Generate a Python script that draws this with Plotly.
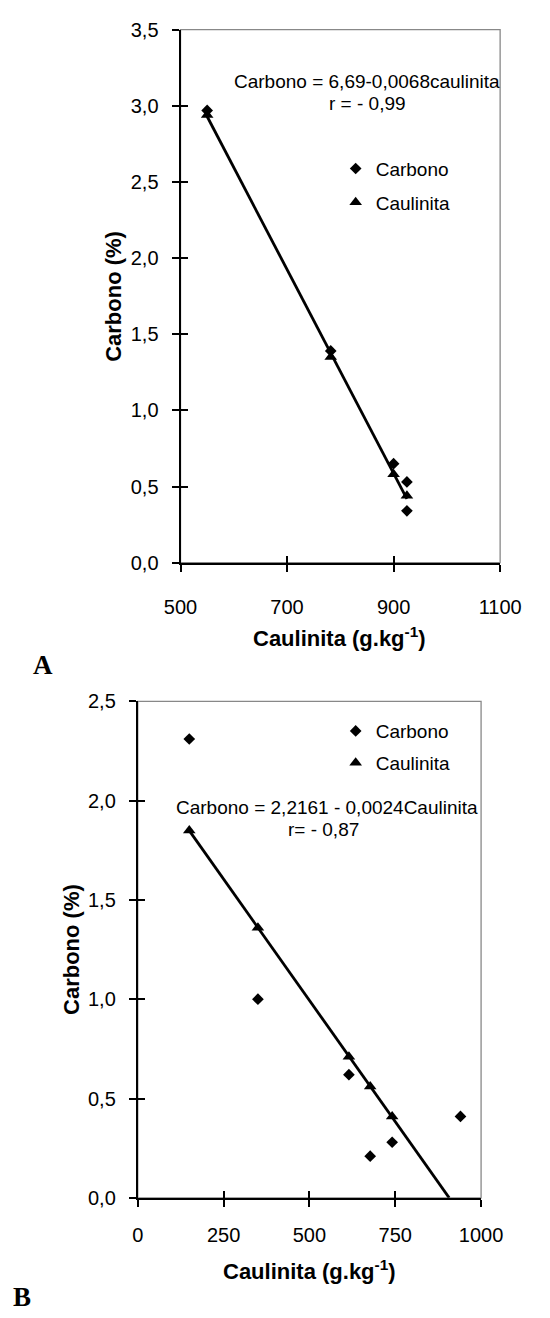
import numpy as np
import plotly.graph_objects as go

W, H = 550, 1318

# ---------------- Panel A data ----------------
a_carbono_x = [550, 782, 900, 925, 925]
a_carbono_y = [2.97, 1.39, 0.65, 0.53, 0.34]
a_caulinita_x = [550, 782, 900, 925]
a_caulinita_y = [2.94, 1.35, 0.58, 0.44]
a_xticks = [500, 700, 900, 1100]
a_yticks = [0, 0.5, 1.0, 1.5, 2.0, 2.5, 3.0, 3.5]
a_yticklabels = ["0,0", "0,5", "1,0", "1,5", "2,0", "2,5", "3,0", "3,5"]
a_eq = ["Carbono = 6,69-0,0068caulinita", "r = - 0,99"]

# ---------------- Panel B data ----------------
b_carbono_x = [150, 350, 615, 677, 741, 940]
b_carbono_y = [2.31, 1.00, 0.62, 0.21, 0.28, 0.41]
b_caulinita_x = [150, 350, 615, 677, 741]
b_caulinita_y = [1.85, 1.36, 0.71, 0.56, 0.41]
b_xticks = [0, 250, 500, 750, 1000]
b_yticks = [0, 0.5, 1.0, 1.5, 2.0, 2.5]
b_yticklabels = ["0,0", "0,5", "1,0", "1,5", "2,0", "2,5"]
b_eq = ["Carbono = 2,2161 - 0,0024Caulinita", "r= - 0,87"]


def px(x):
    return x / W


def py(y):
    return 1 - y / H


FONT = "Liberation Sans, Arial, sans-serif"
SERIF = "Liberation Serif, Times New Roman, serif"
FS = 19
TICK_FS = 20
TITLE_FS = 22

fig = go.Figure()


def add_panel(n, cx, cy, fx, fy, extend_to_zero, legend):
    xa = "x" if n == 1 else "x2"
    ya = "y" if n == 1 else "y2"
    # linear trend line fitted on the Caulinita series
    k, b = np.polyfit(fx, fy, 1)
    x0 = min(fx)
    x1 = (-b / k) if extend_to_zero else max(fx)
    lx = np.array([x0, x1])
    fig.add_trace(go.Scatter(x=lx, y=k * lx + b, mode="lines",
                             line=dict(color="black", width=2.8),
                             showlegend=False, xaxis=xa, yaxis=ya,
                             hoverinfo="skip"))
    fig.add_trace(go.Scatter(x=cx, y=cy, mode="markers", name="Carbono",
                             marker=dict(symbol="diamond", size=9, color="black"),
                             xaxis=xa, yaxis=ya, legend=legend,
                             legendgroup=f"c{n}"))
    fig.add_trace(go.Scatter(x=fx, y=fy, mode="markers", name="Caulinita",
                             marker=dict(symbol="triangle-up", size=11, color="black"),
                             xaxis=xa, yaxis=ya, legend=legend,
                             legendgroup=f"k{n}"))


add_panel(1, a_carbono_x, a_carbono_y, a_caulinita_x, a_caulinita_y, False, "legend")
add_panel(2, b_carbono_x, b_carbono_y, b_caulinita_x, b_caulinita_y, True, "legend2")

# empty traces so the overlay axes (inner half of the crossing ticks) are drawn
fig.add_trace(go.Scatter(x=[None], y=[None], xaxis="x3", yaxis="y3", showlegend=False,
                         hoverinfo="skip"))
fig.add_trace(go.Scatter(x=[None], y=[None], xaxis="x4", yaxis="y4", showlegend=False,
                         hoverinfo="skip"))

axis_common = dict(showgrid=False, zeroline=False, showline=True, linecolor="black",
                   linewidth=2, ticks="outside", ticklen=7, tickwidth=1.5,
                   tickcolor="black", tickfont=dict(family=FONT, size=TICK_FS, color="black"))
inside_common = dict(showgrid=False, zeroline=False, showline=False, ticks="inside",
                     ticklen=7, tickwidth=1.5, tickcolor="black", showticklabels=False)

A_dom_x = [px(176), px(520)]
A_dom_y = [py(561), py(19)]
B_dom_x = [px(130), px(499.5)]
B_dom_y = [py(1207), py(702)]

fig.update_layout(
    width=W, height=H,
    margin=dict(l=0, r=0, t=0, b=0),
    paper_bgcolor="white", plot_bgcolor="white",
    font=dict(family=FONT, size=FS, color="black"),
    xaxis=dict(domain=A_dom_x, range=[500, 1100], tickvals=a_xticks, anchor="y",
               ticklabelstandoff=18, **axis_common),
    yaxis=dict(domain=A_dom_y, range=[0, 3.5], tickvals=a_yticks, ticktext=a_yticklabels,
               anchor="x", ticklabelstandoff=9, **axis_common),
    xaxis2=dict(domain=B_dom_x, range=[0, 1000], tickvals=b_xticks, anchor="y2",
                ticklabelstandoff=11, **axis_common),
    yaxis2=dict(domain=B_dom_y, range=[0, 2.5], tickvals=b_yticks, ticktext=b_yticklabels,
                anchor="x2", ticklabelstandoff=9, **axis_common),
    xaxis3=dict(overlaying="x", anchor="y", range=[500, 1100], tickvals=a_xticks, **inside_common),
    yaxis3=dict(overlaying="y", anchor="x", range=[0, 3.5], tickvals=a_yticks, **inside_common),
    xaxis4=dict(overlaying="x2", anchor="y2", range=[0, 1000], tickvals=b_xticks, **inside_common),
    yaxis4=dict(overlaying="y2", anchor="x2", range=[0, 2.5], tickvals=b_yticks, **inside_common),
    legend=dict(x=px(343), y=py(141), xanchor="left", yanchor="top",
                font=dict(family=FONT, size=FS), bgcolor="rgba(0,0,0,0)",
                tracegroupgap=6, traceorder="grouped"),
    legend2=dict(x=px(343), y=py(713), xanchor="left", yanchor="top",
                 font=dict(family=FONT, size=FS), bgcolor="rgba(0,0,0,0)",
                 tracegroupgap=4, traceorder="grouped"),
    showlegend=True,
)

# gray plot-area borders
for xr, yr in (("x domain", "y domain"), ("x2 domain", "y2 domain")):
    fig.add_shape(type="rect", xref=xr, yref=yr, x0=0, x1=1, y0=0, y1=1,
                  line=dict(color="#888888", width=1.3), layer="below")


def ann(text, x, y, size=FS, bold=False, angle=0, family=FONT, xanchor="center"):
    fig.add_annotation(text=f"<b>{text}</b>" if bold else text, x=px(x), y=py(y),
                       xref="paper", yref="paper", showarrow=False, textangle=angle,
                       xanchor=xanchor, yanchor="middle",
                       font=dict(family=family, size=size, color="black"))


# regression equations
ann(a_eq[0], 377, 72)
ann(a_eq[1], 377, 94)
ann(b_eq[0], 334, 810)
ann(b_eq[1], 330, 832)

# axis titles
ann("Caulinita (g.kg<sup>-1</sup>)", 347, 637, size=TITLE_FS, bold=True)
ann("Carbono (%)", 103, 290, size=TITLE_FS, bold=True, angle=-90)
ann("Caulinita (g.kg<sup>-1</sup>)", 315, 1280, size=TITLE_FS, bold=True)
ann("Carbono (%)", 58, 954, size=TITLE_FS, bold=True, angle=-90)

# panel letters
ann("A", 15, 665, size=27, bold=True, family=SERIF, xanchor="left")
ann("B", -6, 1308, size=27, bold=True, family=SERIF, xanchor="left")

fig.write_html("out.html")
